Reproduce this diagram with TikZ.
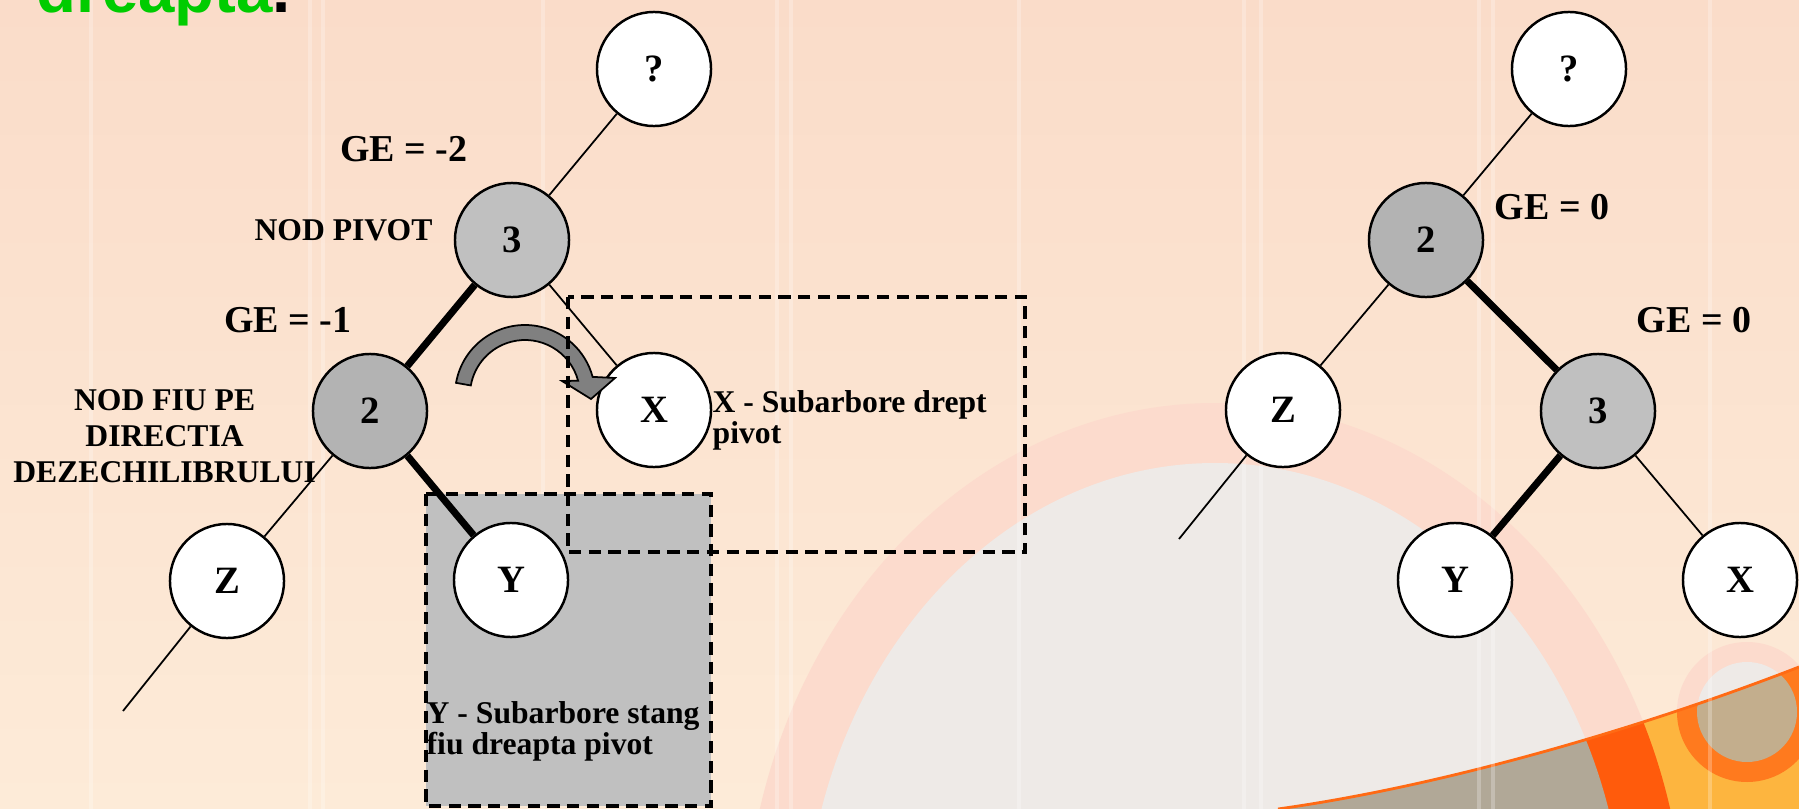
\documentclass[tikz,border=0pt]{standalone}
\usepackage{fontspec}
\setmainfont{Liberation Serif}
\newfontfamily\titlufont{Liberation Sans}
\usepackage[]{xcolor}
\definecolor{fundsus}{HTML}{FADCC9}
\definecolor{fundjos}{HTML}{FDEBD8}
\definecolor{inelroz}{HTML}{FCDBCD}
\definecolor{interior}{HTML}{EEEAE7}
\definecolor{galben}{HTML}{FDB53F}
\definecolor{portocaliu}{HTML}{FF5B0C}
\definecolor{portocaliudoi}{HTML}{FF7A1E}
\definecolor{margine}{HTML}{FF6A14}
\definecolor{brun}{HTML}{B1A897}
\definecolor{tan}{HTML}{C3AE8D}
\definecolor{grisolid}{HTML}{C0C0C0}
\definecolor{grispunct}{HTML}{B3B3B3}
\definecolor{grisageata}{HTML}{808080}
\definecolor{verdetitlu}{HTML}{00CC00}
\usepackage{tikz}

\begin{document}
\begin{tikzpicture}[x=0.01cm,y=-0.01cm,
    nod/.style={circle,draw,line width=0.7pt,fill=white,minimum size=1.14cm,inner sep=0pt,font=\fontsize{11}{13}\selectfont\bfseries},
    nodgri/.style={nod,fill=grisolid},
    nodpunct/.style={nod,fill=grispunct},
    subtire/.style={line width=0.5pt},
    gros/.style={line width=2pt},
    cutie/.style={draw,line width=0.9pt,dash pattern=on 3.5pt off 2.1pt},
    sageata/.style={fill=grisageata,draw=black,line width=0.5pt},
    ge/.style={inner sep=0pt,font=\fontsize{10.8}{13}\selectfont\bfseries},
    eticheta/.style={inner sep=0pt,font=\fontsize{9}{10.2}\selectfont\bfseries},
    nota/.style={inner sep=0pt,align=left,anchor=north west,font=\fontsize{9}{8.8}\selectfont\bfseries},
    dunga/.style={white,opacity=0.25,line width=1.2pt}]
    \useasboundingbox (0,0) rectangle (1799,809);
    \clip (0,0) rectangle (1799,809);
    \shade[top color=fundsus,bottom color=fundjos] (0,0) rectangle (1799,809);
    \fill[inelroz] (1215,950) ellipse (471 and 547);
    \fill[interior] (1215,950) ellipse (411 and 487);
    \fill[inelroz] (1747,712) circle (70);
    \fill[interior] (1747,712) circle (50);
    \begin{scope}
        \clip (1278,809) .. controls (1450,785) and (1650,725) .. (1799,667) -- (1799,809) -- cycle;
        \fill[galben] (1200,600) rectangle (1799,809);
        \fill[portocaliu] (1215,950) ellipse (471 and 547);
        \fill[brun] (1215,950) ellipse (411 and 487);
        \fill[portocaliudoi] (1747,712) circle (70);
        \fill[tan] (1747,712) circle (50);
    \end{scope}
    \draw[margine,line width=0.8pt] (1278,809) .. controls (1450,785) and (1650,725) .. (1799,667);
    \draw[dunga] (91,0) -- (91,809) (310,0) -- (310,809) (323,0) -- (323,809) (543,0) -- (543,809)
        (777,0) -- (777,809) (791,0) -- (791,809) (1019,0) -- (1019,809) (1244,0) -- (1244,809)
        (1261,0) -- (1261,809) (1479,0) -- (1479,809) (1493,0) -- (1493,809) (1710,0) -- (1710,809);
    \node[anchor=base west,inner sep=0pt,text=verdetitlu,font=\titlufont\fontsize{18.6}{22}\selectfont\bfseries] (titlu) at (36,12) {dreapta\textcolor{black}{.}};

    \filldraw[cutie,fill=grisolid] (426,494) rectangle (711,806);

    \node[nod] (lq) at (654,69) {?};
    \node[nodgri] (l3) at (512,240) {3};
    \node[nodpunct] (l2) at (370,411) {2};
    \node[nod] (lx) at (654,410) {X};
    \node[nod] (ly) at (511,580) {Y};
    \node[nod] (lz) at (227,581) {Z};
    \coordinate (lzcapat) at (123,711);
    \draw[subtire] (lq) -- (l3);
    \draw[gros] (l3) -- (l2);
    \draw[subtire] (l3) -- (lx);
    \draw[subtire] (l2) -- (lz);
    \draw[gros] (l2) -- (ly);
    \draw[subtire] (lz) -- (lzcapat);

    \coordinate (centru) at (525,395);
    \filldraw[sageata] ([shift={(190:70)}]centru) arc[start angle=190,end angle=345,radius=70]
        -- (615,378) -- (591,399) -- (562,381)
        -- ([shift={(345:55)}]centru) arc[start angle=345,end angle=190,radius=55] -- cycle;
    \draw[cutie] (568,297) rectangle (1025,552);

    \node[ge] (gemin2) at (404,149) {GE = -2};
    \node[eticheta] (pivot) at (343.5,230) {NOD PIVOT};
    \node[ge] (gemin1) at (288,320) {GE = -1};
    \node[eticheta,align=center] (fiu) at (164.6,436) {NOD FIU PE\\DIRECTIA\\DEZECHILIBRULUI};
    \node[nota] (subx) at (712,390) {X - Subarbore drept\\pivot};
    \node[nota] (suby) at (426,701) {Y - Subarbore stang\\fiu dreapta pivot};

    \node[nod] (rq) at (1569,69) {?};
    \node[nodpunct] (r2) at (1426,240) {2};
    \node[nodgri] (r3) at (1598,411) {3};
    \node[nod] (rz) at (1283,410) {Z};
    \node[nod] (ry) at (1455,580) {Y};
    \node[nod] (rx) at (1740,580) {X};
    \coordinate (rzcapat) at (1179,539);
    \draw[subtire] (rq) -- (r2);
    \draw[subtire] (r2) -- (rz);
    \draw[gros] (r2) -- (r3);
    \draw[gros] (r3) -- (ry);
    \draw[subtire] (r3) -- (rx);
    \draw[subtire] (rz) -- (rzcapat);

    \node[ge] (gezero) at (1552,207) {GE = 0};
    \node[ge] (gezerob) at (1694,320) {GE = 0};
\end{tikzpicture}
\end{document}
